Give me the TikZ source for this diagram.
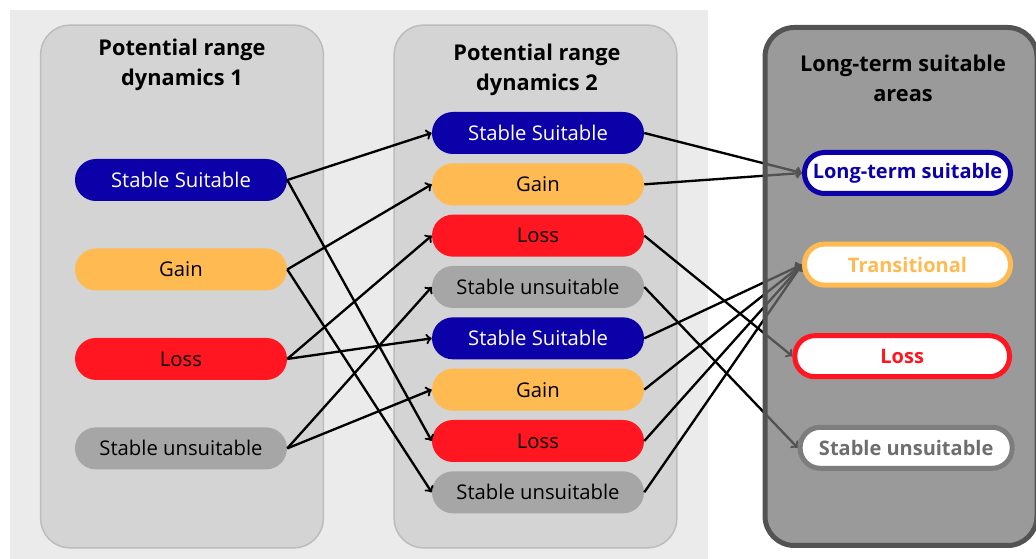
\documentclass[tikz,border=0pt]{standalone}
\usepackage{fontspec}
\setmainfont{Open Sans}
\usetikzlibrary{shapes,arrows}
\usetikzlibrary{positioning}
\definecolor{ssblue}{RGB}{12,0,168}
\definecolor{gainor}{RGB}{255,186,82}
\definecolor{lossred}{RGB}{255,22,32}
\definecolor{sugray}{RGB}{166,166,166}
\definecolor{bgfill}{RGB}{235,235,235}
\definecolor{panelfill}{RGB}{212,212,212}
\definecolor{panelline}{RGB}{188,188,188}
\definecolor{darkfill}{RGB}{115,115,115}
\definecolor{darkline}{RGB}{83,83,83}
\definecolor{sutext}{RGB}{110,110,110}
\pgfdeclarelayer{back}
\pgfdeclarelayer{front}
\pgfsetlayers{back,main,front}
\tikzstyle{panel} = [rectangle, draw=panelline, fill=panelfill, line width=1.1pt, rounded corners=22pt, minimum width=212pt, minimum height=392pt]
\tikzstyle{title} = [font=\fontsize{16.3}{22.5}\selectfont\bfseries, align=center]
\tikzstyle{pill} = [rectangle, rounded corners=15.7pt, minimum width=159pt, minimum height=31.5pt, inner sep=0pt, font=\fontsize{15.2}{18}\selectfont]
\tikzstyle{outpill} = [rectangle, fill=white, line width=3.75pt, rounded corners=15pt, minimum width=154.5pt, minimum height=30.75pt, inner sep=0pt, font=\fontsize{15}{18}\selectfont\bfseries]
\tikzstyle{link} = [->, line width=1.75pt]

\begin{document}
\begin{tikzpicture}[x=0.75pt, y=-0.75pt]
   \useasboundingbox (0,0) rectangle (1036,559);
   % Panels
   \begin{pgfonlayer}{back}
   \fill[bgfill] (10,10) rectangle (708,559);
   \node [panel] (p1) at (182,286.5) {};
   \node [panel] (p2) at (535.5,286.5) {};
   \end{pgfonlayer}
   \node [title] (t1) at (182,65) {Potential range\\dynamics 1};
   \node [title] (t2) at (537,70) {Potential range\\dynamics 2};

   % Place nodes
   \node [pill, fill=ssblue, text=white] (ss-1) at (181,180) {Stable Suitable};
   \node [pill, fill=gainor, below = 35.2pt of ss-1] (gain-1) {Gain};
   \node [pill, fill=lossred, below = 35.2pt of gain-1] (loss-1) {Loss};
   \node [pill, fill=sugray, below = 35.2pt of loss-1] (su-1) {Stable unsuitable};

   \node [pill, fill=ssblue, text=white] (ss-2) at (538,133) {Stable Suitable};
   \node [pill, fill=gainor, below = 6.6pt of ss-2] (gain-2) {Gain};
   \node [pill, fill=lossred, below = 6.6pt of gain-2] (loss-2) {Loss};
   \node [pill, fill=sugray, below = 6.6pt of loss-2] (su-2) {Stable unsuitable};
   \node [pill, fill=ssblue, text=white, below = 6.6pt of su-2] (ss-2b) {Stable Suitable};
   \node [pill, fill=gainor, below = 6.6pt of ss-2b] (gain-2b) {Gain};
   \node [pill, fill=lossred, below = 6.6pt of gain-2b] (loss-2b) {Loss};
   \node [pill, fill=sugray, below = 6.6pt of loss-2b] (su-2b) {Stable unsuitable};

   \begin{pgfonlayer}{front}
   \node [rectangle, fill=darkfill, fill opacity=0.72, draw=darkline, draw opacity=1, line width=3.75pt, rounded corners=22pt, minimum width=204pt, minimum height=388.5pt] (p3) at (901,286.5) {};
   \node [title] (t3) at (903,78) {Long-term suitable\\areas};
   \node [outpill, draw=ssblue, text=ssblue] (lts) at (907.5,173) {Long-term suitable};
   \node [outpill, draw=gainor, text=gainor, below = 34.2pt of lts] (trans) {Transitional};
   \node [outpill, draw=lossred, text=lossred, minimum width=161pt, below = 34.2pt of trans, xshift=-4] (loss-3) {Loss};
   \node [outpill, draw=sugray!75!black, text=sutext, minimum width=159pt, below = 34.2pt of loss-3, xshift=3] (su-3) {Stable unsuitable};
   \end{pgfonlayer}

   % Dynamics 1 to dynamics 2
   \draw[link] (ss-1.east) to (ss-2.west);
   \draw[link] (ss-1.east) to (loss-2b.west);
   \draw[link] (gain-1.east) to (gain-2.west);
   \draw[link] (gain-1.east) to (su-2b.west);
   \draw[link] (loss-1.east) to (loss-2.west);
   \draw[link] (loss-1.east) to (ss-2b.west);
   \draw[link] (su-1.east) to (su-2.west);
   \draw[link] (su-1.east) to (gain-2b.west);
   % Dynamics 2 to long-term areas
   \draw[link] (ss-2.east) to (lts.west);
   \draw[link] (gain-2.east) to (lts.west);
   \draw[link] (loss-2.east) to (loss-3.west);
   \draw[link] (su-2.east) to (su-3.west);
   \draw[link] (ss-2b.east) to (trans.west);
   \draw[link] (gain-2b.east) to (trans.west);
   \draw[link] (loss-2b.east) to (trans.west);
   \draw[link] (su-2b.east) to (trans.west);
\end{tikzpicture}
\end{document}
